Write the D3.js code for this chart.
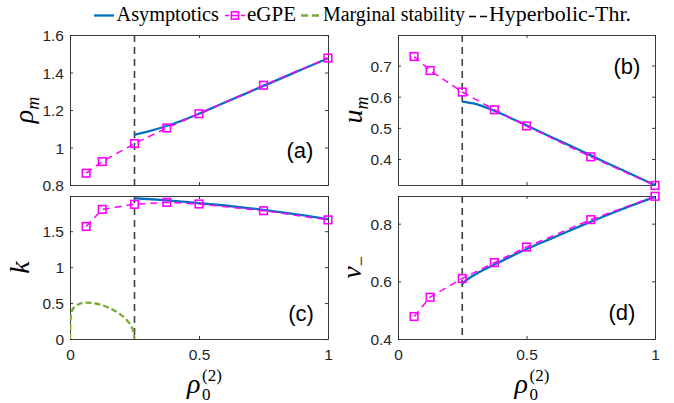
<!DOCTYPE html>
<html><head><meta charset="utf-8">
<script src="https://cdn.jsdelivr.net/npm/d3@7"></script>
<style>body{margin:0;background:#fff}svg{display:block}
.serif{font-family:"Liberation Serif","DejaVu Serif",serif}
.sans{font-family:"Liberation Sans",Arial,sans-serif}
</style>
</head><body>
<script>
// ---- data ----
const xEgpe = [0.0625, 0.125, 0.25, 0.375, 0.5, 0.75, 1];
const rhoEgpe = [0.863, 0.925, 1.021, 1.104, 1.180, 1.332, 1.477];
const uEgpe = [0.729, 0.684, 0.615, 0.558, 0.506, 0.407, 0.315];
const kEgpe = [1.566, 1.804, 1.874, 1.902, 1.879, 1.785, 1.658];
const vEgpe = [0.478, 0.545, 0.610, 0.665, 0.719, 0.814, 0.895];

const xAsym = [0.25, 0.26, 0.28, 0.3, 0.35, 0.4, 0.45, 0.5, 0.6, 0.7, 0.8, 0.9, 1.0];
const rhoAsym = [1.068, 1.071, 1.078, 1.0845, 1.104, 1.1265, 1.152, 1.180, 1.240, 1.299, 1.358, 1.417, 1.476];
const uAsym = [0.584, 0.583, 0.580, 0.577, 0.563, 0.546, 0.527, 0.508, 0.469, 0.431, 0.392, 0.354, 0.316];
const kAsym = [1.958, 1.956, 1.952, 1.948, 1.936, 1.922, 1.907, 1.892, 1.858, 1.819, 1.774, 1.723, 1.668];
const vAsym = [0.591, 0.600, 0.613, 0.624, 0.647, 0.669, 0.691, 0.712, 0.750, 0.788, 0.825, 0.860, 0.893];

const xMarg = [0, 0.001, 0.003, 0.006, 0.01, 0.02, 0.03, 0.045, 0.0625, 0.08, 0.1, 0.125, 0.15, 0.175, 0.2, 0.22, 0.235, 0.245, 0.25];
const kMarg = [0, 0.2, 0.3, 0.37, 0.41, 0.455, 0.478, 0.498, 0.505, 0.503, 0.494, 0.47, 0.435, 0.39, 0.33, 0.265, 0.19, 0.11, 0];

const xThr = 0.25;
const xTicks = [0, 0.5, 1];
const xTickLabels = ["0", "0.5", "1"];
const legendLabels = ["Asymptotics", "eGPE", "Marginal stability", "Hyperbolic-Thr."];

const BLUE = "#0072BD", MAG = "#FF00FF", GREEN = "#77AC30", AX = "#262626", THR = "#404040";

const W = 674, H = 403;
const svg = d3.select("body").append("svg").attr("width", W).attr("height", H);

const panels = [
  {id:"a", x0:70, x1:328, y0:35, y1:185, dom:[0.8,1.6], ticks:[0.8,1,1.2,1.4,1.6], tl:["0.8","1","1.2","1.4","1.6"],
   eg:rhoEgpe, as:rhoAsym, lab:["ρ","m"], labX:33, letter:"(a)", lx:300, ly:158, xl:false},
  {id:"b", x0:398, x1:655, y0:35, y1:185, dom:[0.3165,0.798], ticks:[0.4,0.5,0.6,0.7], tl:["0.4","0.5","0.6","0.7"],
   eg:uEgpe, as:uAsym, lab:["u","m"], labX:362, letter:"(b)", lx:627, ly:74, xl:false},
  {id:"c", x0:70, x1:328, y0:196, y1:339, dom:[0,1.99], ticks:[0,0.5,1,1.5], tl:["0","0.5","1","1.5"],
   eg:kEgpe, as:kAsym, lab:["k",""], labX:29, letter:"(c)", lx:301, ly:321, xl:true, marg:true},
  {id:"d", x0:398, x1:655, y0:196, y1:339, dom:[0.4,0.896], ticks:[0.4,0.6,0.8], tl:["0.4","0.6","0.8"],
   eg:vEgpe, as:vAsym, lab:["v","−"], labX:361, letter:"(d)", lx:622, ly:320, xl:true}
];

panels.forEach(p => {
  const x = d3.scaleLinear().domain([0,1]).range([p.x0, p.x1]);
  const y = d3.scaleLinear().domain(p.dom).range([p.y1, p.y0]);
  const g = svg.append("g");
  const clipId = "clip" + p.id;
  g.append("clipPath").attr("id", clipId).append("rect")
    .attr("x", p.x0).attr("y", p.y0 - 5).attr("width", p.x1 - p.x0 + 6).attr("height", p.y1 - p.y0 + 10);

  const tickLen = 3;
  const axB = d3.axisBottom(x).tickValues(xTicks).tickSizeInner(-tickLen).tickSizeOuter(0)
    .tickFormat((d,i) => p.xl ? xTickLabels[i] : "");
  const axT = d3.axisTop(x).tickValues(xTicks).tickSizeInner(-tickLen).tickSizeOuter(0).tickFormat("");
  const axL = d3.axisLeft(y).tickValues(p.ticks).tickSizeInner(-tickLen).tickSizeOuter(0)
    .tickFormat((d,i) => p.tl[i]);
  const axR = d3.axisRight(y).tickValues(p.ticks).tickSizeInner(-tickLen).tickSizeOuter(0).tickFormat("");
  const styleAx = sel => {
    sel.attr("font-family", null).attr("class", "sans");
    sel.select(".domain").attr("stroke", AX).attr("stroke-width", 0.9);
    sel.selectAll(".tick line").attr("stroke", AX).attr("stroke-width", 0.9);
    sel.selectAll("text").attr("fill", AX).attr("font-size", 15.5);
  };
  g.append("g").attr("transform", `translate(0,${p.y1})`).call(axB).call(styleAx)
    .selectAll("text").attr("dy", null).attr("y", 21);
  g.append("g").attr("transform", `translate(0,${p.y0})`).call(axT).call(styleAx);
  g.append("g").attr("transform", `translate(${p.x0},0)`).call(axL).call(styleAx)
    .selectAll("text").attr("x", -6).attr("dy", "0.36em");
  g.append("g").attr("transform", `translate(${p.x1},0)`).call(axR).call(styleAx);

  const plot = g.append("g").attr("clip-path", `url(#${clipId})`);

  plot.append("line").attr("x1", x(xThr)).attr("x2", x(xThr)).attr("y1", p.y0).attr("y2", p.y1)
    .attr("stroke", THR).attr("stroke-width", 1.6).attr("stroke-dasharray", "7,5");

  if (p.marg) {
    const lm = d3.line().x((d,i) => x(xMarg[i])).y(d => y(d)).curve(d3.curveMonotoneX);
    plot.append("path").attr("d", lm(kMarg)).attr("fill", "none").attr("stroke", GREEN)
      .attr("stroke-width", 2.3).attr("stroke-dasharray", "6,3");
  }

  const la = d3.line().x((d,i) => x(xAsym[i])).y(d => y(d)).curve(d3.curveMonotoneX);
  plot.append("path").attr("d", la(p.as)).attr("fill", "none").attr("stroke", BLUE).attr("stroke-width", 2.3);

  const le = d3.line().x((d,i) => x(xEgpe[i])).y(d => y(d));
  plot.append("path").attr("d", le(p.eg)).attr("fill", "none").attr("stroke", MAG)
    .attr("stroke-width", 1.5).attr("stroke-dasharray", "7,5");
  g.selectAll(null).data(p.eg).enter().append("rect")
    .attr("x", (d,i) => x(xEgpe[i]) - 3.8).attr("y", d => y(d) - 3.8)
    .attr("width", 7.6).attr("height", 7.6).attr("fill", "none").attr("stroke", MAG).attr("stroke-width", 1.6);

  g.append("text").attr("class", "sans").attr("x", p.lx).attr("y", p.ly).attr("text-anchor", "middle")
    .attr("font-size", 22).attr("fill", "#000").text(p.letter);

  const cy = (p.y0 + p.y1) / 2;
  const yl = g.append("text").attr("class", "serif").attr("transform", `translate(${p.labX},${cy}) rotate(-90)`)
    .attr("text-anchor", "middle").attr("font-style", "italic")
    .attr("font-size", 28).attr("fill", "#000");
  yl.append("tspan").text(p.lab[0]);
  if (p.lab[1]) yl.append("tspan").attr("font-size", 18).attr("dy", 6)
    .attr("font-style", p.lab[1] === "−" ? "normal" : "italic").text(p.lab[1]);

  if (p.xl) {
    const cx = (p.x0 + p.x1) / 2;
    const xg = g.append("g").attr("class", "serif").attr("fill", "#000");
    xg.append("text").attr("x", cx - 12).attr("y", 393).attr("font-style", "italic").attr("font-size", 28).text("ρ");
    xg.append("text").attr("x", cx + 3).attr("y", 400).attr("font-size", 17).text("0");
    xg.append("text").attr("x", cx + 3).attr("y", 381).attr("font-size", 17).text("(2)");
  }
});

// ---- legend ----
const lg = svg.append("g").attr("class", "serif").attr("font-size", 20.5).attr("fill", "#000");
const ly = 15.5, ty = 21;
lg.append("line").attr("x1", 94).attr("x2", 114).attr("y1", ly).attr("y2", ly).attr("stroke", BLUE).attr("stroke-width", 2.3);
lg.append("text").attr("x", 116.5).attr("y", ty).attr("textLength", 102.5).attr("lengthAdjust", "spacingAndGlyphs").text(legendLabels[0]);
lg.append("line").attr("x1", 225).attr("x2", 245).attr("y1", ly).attr("y2", ly).attr("stroke", MAG).attr("stroke-width", 1.5).attr("stroke-dasharray", "4,2.5,7,2.5,4");
lg.append("rect").attr("x", 235 - 3.6).attr("y", ly - 3.6).attr("width", 7.2).attr("height", 7.2).attr("fill", "none").attr("stroke", MAG).attr("stroke-width", 1.6);
lg.append("text").attr("x", 247).attr("y", ty).attr("textLength", 49).attr("lengthAdjust", "spacingAndGlyphs").text(legendLabels[1]);
lg.append("line").attr("x1", 301).attr("x2", 320).attr("y1", ly).attr("y2", ly).attr("stroke", GREEN).attr("stroke-width", 2.3).attr("stroke-dasharray", "7,4");
lg.append("text").attr("x", 323).attr("y", ty).attr("textLength", 142).attr("lengthAdjust", "spacingAndGlyphs").text(legendLabels[2]);
lg.append("line").attr("x1", 469).attr("x2", 487).attr("y1", ly + 1).attr("y2", ly + 1).attr("stroke", "#000").attr("stroke-width", 1.5).attr("stroke-dasharray", "7,4");
lg.append("text").attr("x", 489).attr("y", ty).attr("textLength", 142).attr("lengthAdjust", "spacingAndGlyphs").text(legendLabels[3]);
</script>
</body></html>
